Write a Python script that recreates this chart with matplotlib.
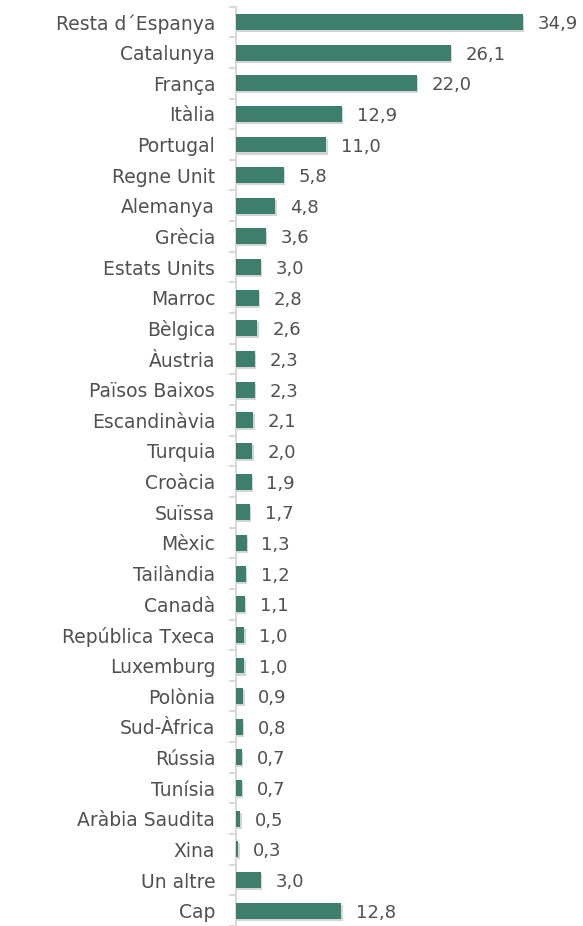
import numpy as np
from matplotlib import pyplot as plt
import matplotlib.patheffects as pe

# data
countries = ["Resta d\u00b4Espanya", "Catalunya", "França", "Itàlia", "Portugal",
             "Regne Unit", "Alemanya", "Grècia", "Estats Units", "Marroc",
             "Bèlgica", "Àustria", "Països Baixos", "Escandinàvia", "Turquia",
             "Croàcia", "Suïssa", "Mèxic", "Tailàndia", "Canadà",
             "República Txeca", "Luxemburg", "Polònia", "Sud-Àfrica", "Rússia",
             "Tunísia", "Aràbia Saudita", "Xina", "Un altre", "Cap"]
values = [34.9, 26.1, 22.0, 12.9, 11.0, 5.8, 4.8, 3.6, 3.0, 2.8,
          2.6, 2.3, 2.3, 2.1, 2.0, 1.9, 1.7, 1.3, 1.2, 1.1,
          1.0, 1.0, 0.9, 0.8, 0.7, 0.7, 0.5, 0.3, 3.0, 12.8]

plt.rcParams['font.family'] = ['DejaVu Sans']
txt = '#505050'
green = '#3E7E6D'

W, H = 583, 926
fig = plt.figure(figsize=(W/100, H/100), dpi=100)
left = 236/W
ax = fig.add_axes([left, 0, 1-left, 1])

y = np.arange(len(countries))
bars = ax.barh(y, values, height=0.52, color=green, zorder=3)
for b in bars:
    b.set_path_effects([pe.SimplePatchShadow(offset=(1, -1.5), shadow_rgbFace='#888888', alpha=0.35), pe.Normal()])

for yi, v in zip(y, values):
    ax.text(v + 1.8, yi, f"{v:.1f}".replace('.', ','), va='center_baseline', ha='left',
            fontsize=13, color=txt)

ax.set_xlim(0, 42.2)
ax.set_ylim(29.39, -0.715)
ax.set_yticks(y)
ax.set_yticklabels(countries, fontsize=13.5, color=txt)
ax.tick_params(axis='y', which='major', length=0, pad=15)
ax.set_yticks(np.arange(-0.5, len(countries), 1), minor=True)
ax.tick_params(axis='y', which='minor', length=5, width=1.5, color='#D9D9D9')
ax.set_xticks([])
for s in ['top', 'right', 'bottom']:
    ax.spines[s].set_visible(False)
ax.spines['left'].set_color('#D9D9D9')
ax.spines['left'].set_linewidth(1.5)
ax.spines['left'].set_bounds(-0.5, 29.5)

fig.savefig('out.png', dpi=100)
